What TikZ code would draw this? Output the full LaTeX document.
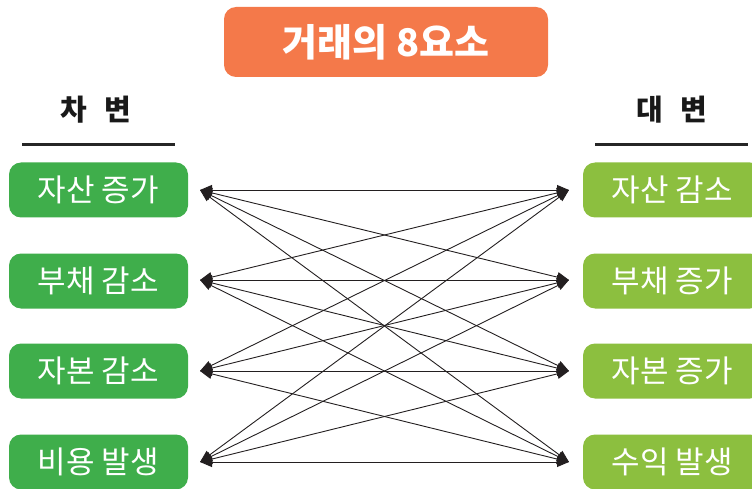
\documentclass[tikz,border=0pt]{standalone}
\usepackage{fontspec}
\setmainfont{Noto Sans CJK KR}
\usetikzlibrary{arrows.meta}
\definecolor{titlebg}{HTML}{F4794A}
\definecolor{debitbg}{HTML}{3FAE4B}
\definecolor{creditbg}{HTML}{8CBF3F}
\definecolor{linecol}{HTML}{231F20}
\tikzset{
  titlebox/.style={fill=titlebg, rounded corners=12pt, minimum width=324pt, minimum height=70pt, inner sep=0pt, text=white, font=\fontsize{38}{44}\selectfont\bfseries},
  headtext/.style={inner sep=0pt, text=black!90, font=\fontsize{29}{34}\selectfont\bfseries},
  headrule/.style={line width=3pt, draw=black!85},
  elbox/.style={rounded corners=12pt, minimum width=179pt, minimum height=55pt, inner sep=0pt, text=white, font=\fontsize{31}{36}\selectfont},
  debit/.style={elbox, fill=debitbg},
  credit/.style={elbox, fill=creditbg},
  conn/.style={line width=0.9pt, draw=linecol, {Triangle[length=12pt,width=10pt]}-{Triangle[length=12pt,width=10pt]}}
}
\begin{document}
\begin{tikzpicture}[x=1pt,y=-1pt]
\useasboundingbox (0,0) rectangle (752,489);
\clip (0,0) rectangle (752,489);
\node[titlebox] (title) at (386,42) {거래의 8요소};
\node[headtext] (dr) at (96,110) {차\hspace{0.6em}변};
\node[headtext] (cr) at (672,110) {대\hspace{0.6em}변};
\coordinate (drl) at (22,145);
\coordinate (drr) at (175,145);
\coordinate (crl) at (595,145);
\coordinate (crr) at (748,145);
\draw[headrule] (drl) -- (drr);
\draw[headrule] (crl) -- (crr);
\node[debit] (d1) at (98.5,190) {자산 증가};
\node[debit] (d2) at (98.5,281) {부채 감소};
\node[debit] (d3) at (98.5,371) {자본 감소};
\node[debit] (d4) at (98.5,462) {비용 발생};
\node[credit] (c1) at (672.5,190) {자산 감소};
\node[credit] (c2) at (672.5,281) {부채 증가};
\node[credit] (c3) at (672.5,371) {자본 증가};
\node[credit] (c4) at (672.5,462) {수익 발생};
\foreach \i/\y in {1/190,2/280,3/371,4/462}{
  \coordinate (a\i) at (200,\y);
  \coordinate (b\i) at (569,\y);
}
\foreach \i in {1,2,3,4}{
  \foreach \j in {1,2,3,4}{
    \draw[conn] (a\i) -- (b\j);
  }
}
\end{tikzpicture}
\end{document}
